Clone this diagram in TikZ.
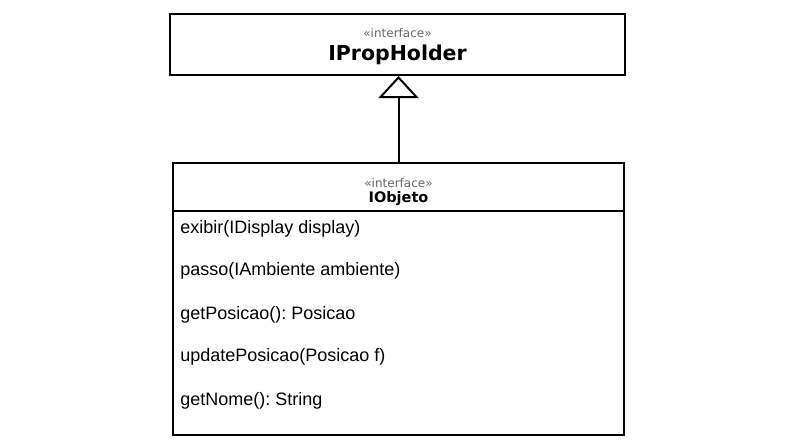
\documentclass[tikz,border=0pt]{standalone}
\usepackage{fontspec}
\setmainfont{Liberation Sans}
\newfontfamily\verd{DejaVu Sans}
\frenchspacing
\usetikzlibrary{arrows.meta}
\usetikzlibrary{positioning}

\begin{document}
\begin{tikzpicture}[x=1pt, y=-1pt, line width=2pt]
\useasboundingbox (0,0) rectangle (794,447);
\node at (397.5,44.5) [draw, name=PropHolder, rectangle, minimum width = 455pt, minimum height = 61pt]{};
\node at (397.5,33) [name=StereoA, text=gray!80!black]{\verd\fontsize{12}{14}\selectfont «interface»};
\node at (397.5,55) [name=TitleA]{\verd\bfseries\fontsize{20.5}{24}\selectfont IPropHolder};
\node at (398.5,299) [draw, name=Objeto, rectangle, minimum width = 451pt, minimum height = 272pt]{};
\node at (398.5,183) [name=StereoB, text=gray!80!black]{\verd\fontsize{12}{14}\selectfont «interface»};
\node at (398.5,199) [name=TitleB]{\verd\bfseries\fontsize{14.5}{17}\selectfont IObjeto};
\coordinate (SepL) at (173,211);
\coordinate (SepR) at (624,211);
\draw (SepL) -- (SepR);
\node at (176,229) [anchor=west, name=Exibir]{\fontsize{18}{20}\selectfont exibir(IDisplay display)};
\node at (176,271) [anchor=west, name=Passo]{\fontsize{18}{20}\selectfont passo(IAmbiente ambiente)};
\node at (176,315) [anchor=west, name=GetPos]{\fontsize{18}{20}\selectfont getPosicao(): Posicao};
\node at (176,357) [anchor=west, name=UpdPos]{\fontsize{18}{20}\selectfont updatePosicao(Posicao f)};
\node at (176,401) [anchor=west, name=GetNome]{\fontsize{18}{20}\selectfont getNome(): String};
\draw [-{Triangle[open, length=22pt, width=40pt]}] (Objeto.north) -- (Objeto.north |- PropHolder.south);
\end{tikzpicture}
\end{document}
